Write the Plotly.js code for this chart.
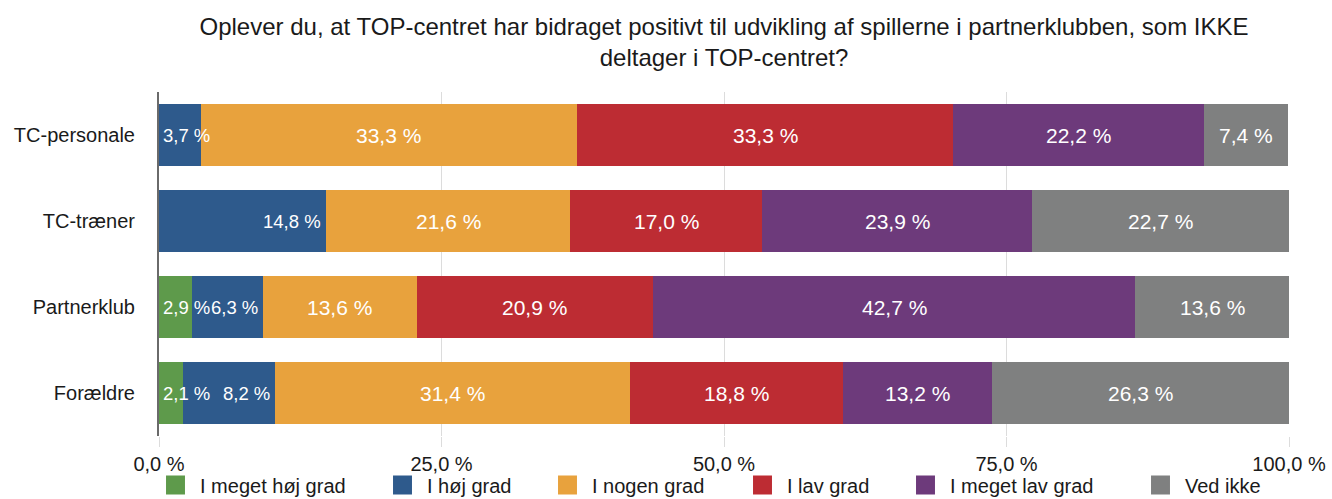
<!DOCTYPE html>
<html>
<head>
<meta charset="utf-8">
<script src="https://cdn.plot.ly/plotly-3.0.1.min.js"></script>
<style>
html,body{margin:0;padding:0;background:#fff;}
#chart{width:1332px;height:499px;}
#chart .legendpoints path{transform:translate(15.5px,0px) scale(1.58);}
</style>
</head>
<body>
<div id="chart"></div>
<script>
// Categories (top to bottom)
const categories = ["TC-personale", "TC-træner", "Partnerklub", "Forældre"];
const seriesNames = ["I meget høj grad", "I høj grad", "I nogen grad", "I lav grad", "I meget lav grad", "Ved ikke"];
const meget_hoj = [0, 0, 2.9, 2.1];
const hoj = [3.7, 14.8, 6.3, 8.2];
const nogen = [33.3, 21.6, 13.6, 31.4];
const lav = [33.3, 17.0, 20.9, 18.8];
const meget_lav = [22.2, 23.9, 42.7, 13.2];
const ved_ikke = [7.4, 22.7, 13.6, 26.3];
const xTicks = [0, 25, 50, 75, 100];

const series = [meget_hoj, hoj, nogen, lav, meget_lav, ved_ikke];
const colors = ["#5e9a4b", "#2e5a8c", "#e8a23d", "#bd2c33", "#6d3a7b", "#7f8080"];
const legendWidths = [182, 120, 150, 118, 190, 100];
const FONT = "Liberation Sans, Arial, Helvetica, sans-serif";

function fmt(v) { return v.toFixed(1).replace(".", ",") + " %"; }

const traces = series.map((vals, i) => ({
  type: "bar",
  orientation: "h",
  name: seriesNames[i],
  y: categories,
  x: vals,
  legendwidth: legendWidths[i],
  marker: { color: colors[i], line: { width: 0 } },
  hoverinfo: "skip"
}));

// Labels placed via data coordinates computed from the series
const annotations = [];
categories.forEach((cat, c) => {
  let cum = 0;
  series.forEach((vals, i) => {
    const v = vals[c];
    const x0 = cum, x1 = cum + v;
    cum = x1;
    if (v <= 0) return;
    let x, xanchor, xshift, size = 21;
    if (i === 0 || (i === 1 && v < 5)) { x = x0; xanchor = "left"; xshift = 2; size = 18.5; }
    else if (i === 1) { x = x1; xanchor = "right"; xshift = -3; size = 18.5; }
    else { x = (x0 + x1) / 2; xanchor = "center"; xshift = 0; }
    annotations.push({
      x: x, y: cat, xref: "x", yref: "y", text: fmt(v), showarrow: false,
      xanchor: xanchor, yanchor: "middle", xshift: xshift,
      font: { family: FONT, size: size, color: "#ffffff" }
    });
  });
});

const layout = {
  width: 1332, height: 499,
  margin: { l: 159, r: 43, t: 92, b: 63, pad: 0, autoexpand: false },
  paper_bgcolor: "#ffffff", plot_bgcolor: "#ffffff",
  separators: ", ",
  barmode: "stack",
  bargap: 0.275,
  font: { family: FONT, size: 20, color: "#1a1a1a" },
  title: {
    text: "Oplever du, at TOP-centret har bidraget positivt til udvikling af spillerne i partnerklubben, som IKKE<br>deltager i TOP-centret?",
    x: 0.5, xref: "paper", xanchor: "center",
    y: 1 - 35 / 499, yref: "container", yanchor: "middle",
    font: { family: FONT, size: 24, color: "#1a1a1a" }
  },
  xaxis: {
    range: [0, 100], tickmode: "array", tickvals: xTicks, ticktext: xTicks.map(fmt),
    showgrid: true, gridcolor: "#dcdcdc", gridwidth: 1,
    zeroline: false, showline: false,
    ticks: "outside", ticklen: 10, tickcolor: "#dcdcdc",
    tickfont: { family: FONT, size: 20, color: "#1a1a1a" },
    automargin: false,
    fixedrange: true
  },
  yaxis: {
    autorange: "reversed", type: "category",
    showline: true, linecolor: "#6a6a6a", linewidth: 2,
    showgrid: false, zeroline: false,
    ticks: "outside", ticklen: 18, tickcolor: "rgba(0,0,0,0)",
    tickfont: { family: FONT, size: 20, color: "#1a1a1a" },
    automargin: false,
    fixedrange: true
  },
  legend: {
    orientation: "h", x: 160 / 1332, xref: "container", xanchor: "left",
    y: 1 - 485 / 499, yref: "container", yanchor: "middle",
    bgcolor: "rgba(0,0,0,0)",
    font: { family: FONT, size: 20, color: "#1a1a1a" },
    traceorder: "normal"
  },
  showlegend: true,
  annotations: annotations
};

Plotly.newPlot("chart", traces, layout, { displayModeBar: false, staticPlot: true });
</script>
</body>
</html>
